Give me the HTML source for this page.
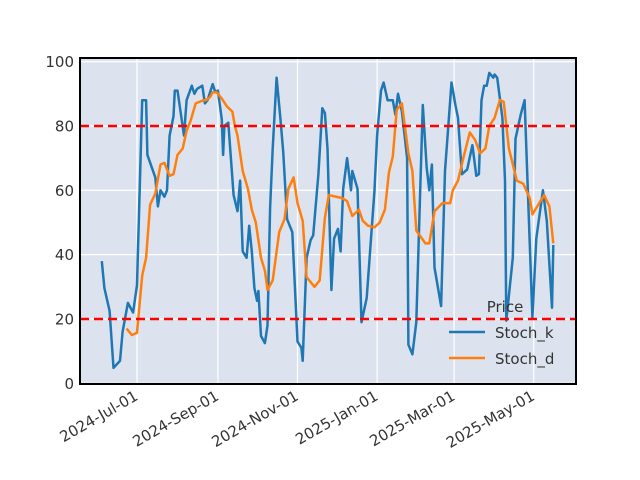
<!DOCTYPE html>
<html><head><meta charset="utf-8"><style>
html,body{margin:0;padding:0;background:#fff;}
svg{display:block;font-family:"DejaVu Sans","Liberation Sans",sans-serif;}
</style></head><body>
<svg id="chart" width="640" height="480" viewBox="0 0 640 480">
<rect x="80" y="58" width="496" height="326" fill="#dde3ee"/>
<g id="grid"></g>
<g id="ticks"></g>
<g id="series"></g>
<rect x="80" y="58" width="496" height="326" fill="none" stroke="#000" stroke-width="2"/>
<g>
<text x="505" y="312" font-size="15" fill="#333" text-anchor="middle">Price</text>
<line x1="449" y1="332" x2="485" y2="332" stroke="#1f77b4" stroke-width="2.5"/>
<text x="495" y="338" font-size="15" fill="#333">Stoch_k</text>
<line x1="449" y1="358" x2="485" y2="358" stroke="#ff7f0e" stroke-width="2.5"/>
<text x="495" y="364" font-size="15" fill="#333">Stoch_d</text>
</g>
</svg>
<script>
// day offsets from 2024-07-01
const kDays=[-27,-25,-21,-18,-13,-11,-7,-3,0,4,7,8,14,16,18,21,23,25,28,29,31,36,38,42,44,46,50,52,54,58,60,62,65,66,67,70,74,77,79,81,84,86,88,90,92,93,95,98,100,102,104,107,110,112,115,119,123,126,127,130,133,135,139,142,144,146,149,151,154,156,158,161,164,165,169,172,176,182,184,187,189,192,196,198,200,203,207,208,211,214,217,219,222,224,226,228,233,236,241,244,246,249,253,257,260,262,264,266,268,270,273,274,276,280,282,283,288,290,294,297,303,306,311,314,318,319];
const kVals=[38,29.6,22.5,4.8,7,16,25,22,30.6,88,88,71,64,55,60,58,60,77,83,91,91,77,88,92.5,90,91.5,92.5,87,88,93,90.5,91,82,71,80,81,58.5,53.5,63,41,39,49,41,29.6,25.6,28.7,14.7,12.5,18,54.5,73,95,82,72,51,47,13,11,7,39,44.5,46,65,85.5,84,73,29,45,48,41,60.5,70,60,66,60.5,19,26.5,60,77,91,93.5,88,88,83.5,90,84.5,70,12,9,19,60,86.5,67,60,68,36,24,66,93.5,86.5,82.5,65,66.5,74,64.5,65,88,92.5,92.5,96.5,95,96,95,82.5,63,19.5,39,76,83.5,88,20.5,45,60,50.5,23.5,43];
const dDays=[-8,-4,0,4,7,10,14,18,21,25,28,31,35,38,41,45,51,53,56,58,61,65,69,73,75,77,81,85,88,91,95,98,100,104,109,113,116,120,123,127,130,136,140,144,147,149,157,161,165,170,173,177,182,186,190,193,196,199,203,208,211,214,221,224,228,234,240,242,246,250,255,259,263,267,270,274,278,281,285,291,296,301,303,309,312,316,319];
const dVals=[17,15,15.7,33.5,39,55.5,59,68,68.5,64.5,65,71,73,78.5,81.5,87,88,88,89,90.5,90.5,88.5,86,84.5,80,77,66,60.5,54,50,39,35,29,32,47,51,60.5,64,56,50.5,33,30,32,51.5,58.5,58.3,57.6,56.6,52,54,50.5,49,48.5,50,54,65.5,70.5,85,87,71.5,66,47.5,43.5,43.5,53.5,56,56,60,63,70,78,75.7,71.5,73,80,82.5,88,87.5,73,63,62,57.5,52.5,56.5,58.5,55,43.5];
const yTicks=[0,20,40,60,80,100];
const xTickDays=[0,62,123,184,243,304];
const xTickLabels=["2024-Jul-01","2024-Sep-01","2024-Nov-01","2025-Jan-01","2025-Mar-01","2025-May-01"];
const refLines=[20,80];

const NS="http://www.w3.org/2000/svg";
const xs=d=>137+d*1.305;
const ys=v=>383.3-v*3.217;
function mk(tag,attrs,parent){const e=document.createElementNS(NS,tag);for(const k in attrs)e.setAttribute(k,attrs[k]);parent.appendChild(e);return e;}
const grid=document.getElementById('grid'),ticks=document.getElementById('ticks'),series=document.getElementById('series');
yTicks.forEach(v=>{
  const l=mk('line',{x1:80,x2:576,y1:ys(v),y2:ys(v),stroke:'#fff','stroke-width':1.2},grid);
  
  
  const t=mk('text',{x:74,y:ys(v)+5.5,'font-size':15,fill:'#333','text-anchor':'end'},ticks);
  t.textContent=v;
  
  
});
xTickDays.forEach((d,i)=>{
  const x=xs(d);
  const l=mk('line',{x1:x,x2:x,y1:58,y2:384,stroke:'#fff','stroke-width':1.2},grid);
  
  
  const t=mk('text',{x:x+2,y:399,'font-size':15,fill:'#333','text-anchor':'end',transform:`rotate(-30 ${x+2} 399)`},ticks);
  t.textContent=xTickLabels[i];
  
  
});
function line(days,vals,color,name){
  const p=mk('polyline',{points:days.map((d,i)=>xs(d).toFixed(1)+','+ys(vals[i]).toFixed(1)).join(' '),fill:'none',stroke:color,'stroke-width':2.5,'stroke-linejoin':'round'},series);
  
  
}
line(kDays,kVals,'#1f77b4','stoch-k-line');
line(dDays,dVals,'#ff7f0e','stoch-d-line');
refLines.forEach(v=>{
  const l=mk('line',{x1:80,x2:576,y1:ys(v),y2:ys(v),stroke:'#ff0000','stroke-width':2.5,'stroke-dasharray':'9,5'},series);
  
  
});
</script>
</body></html>
